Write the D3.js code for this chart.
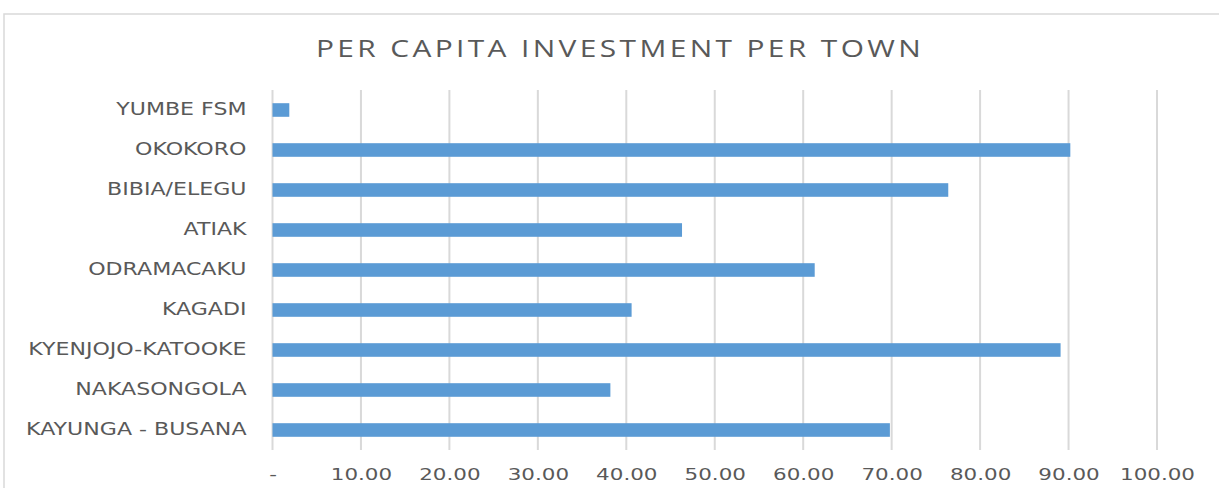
<!DOCTYPE html>
<html>
<head>
<meta charset="utf-8">
<script src="https://cdn.jsdelivr.net/npm/d3@7"></script>
<style>
  body { margin: 0; background: #fff; }
  svg { display: block; }
</style>
</head>
<body>
<svg id="chart"></svg>
<script>
// chart data
const towns = ["KAYUNGA - BUSANA", "NAKASONGOLA", "KYENJOJO-KATOOKE", "KAGADI",
  "ODRAMACAKU", "ATIAK", "BIBIA/ELEGU", "OKOKORO", "YUMBE FSM"];
const perCapita = [69.8, 38.2, 89.1, 40.6, 61.3, 46.3, 76.4, 90.2, 1.9];
const xTicks = [0, 10, 20, 30, 40, 50, 60, 70, 80, 90, 100];

const width = 1219, height = 488;
const margin = { top: 90, right: 62, bottom: 38, left: 272.5 };
const stretch = 1.3; // the original text is drawn wide

const svg = d3.select("#chart").attr("width", width).attr("height", height);

// outer chart border
svg.append("rect")
  .attr("x", 4).attr("y", 14)
  .attr("width", width + 10).attr("height", height + 10)
  .attr("fill", "none").attr("stroke", "#d9d9d9").attr("stroke-width", 1.5);

// title
svg.append("text")
  .attr("transform", `translate(620,57) scale(${stretch},1)`)
  .attr("text-anchor", "middle")
  .attr("font-family", "'Open Sans', sans-serif")
  .attr("font-size", 23)
  .attr("letter-spacing", 2.6)
  .attr("fill", "#595959")
  .text("PER CAPITA INVESTMENT PER TOWN");

const x = d3.scaleLinear().domain([0, 100]).range([margin.left, width - margin.right]);
const y = d3.scaleBand().domain(towns.slice().reverse())
  .range([margin.top, height - margin.bottom]).paddingInner(0.66).paddingOuter(0.33);

// gridlines
svg.append("g")
  .selectAll("line")
  .data(xTicks)
  .join("line")
  .attr("x1", d => x(d)).attr("x2", d => x(d))
  .attr("y1", margin.top).attr("y2", height - margin.bottom)
  .attr("stroke", "#d9d9d9").attr("stroke-width", 2);

// bars
const data = towns.map((t, i) => ({ town: t, value: perCapita[i] }));
svg.append("g")
  .selectAll("rect")
  .data(data)
  .join("rect")
  .attr("x", x(0))
  .attr("y", d => y(d.town))
  .attr("width", d => x(d.value) - x(0))
  .attr("height", y.bandwidth())
  .attr("fill", "#5b9bd5");

// x axis labels
const xAxis = d3.axisBottom(x).tickValues(xTicks)
  .tickFormat(d => d === 0 ? "-" : d3.format(".2f")(d))
  .tickSize(0).tickPadding(18);
const gx = svg.append("g")
  .attr("transform", `translate(0,${height - margin.bottom})`)
  .call(xAxis);
gx.select(".domain").remove();
gx.selectAll("text")
  .attr("transform", `scale(${stretch},1)`)
  .attr("font-family", "'DejaVu Sans', sans-serif")
  .attr("font-size", 16.5)
  .attr("fill", "#595959");

// y axis labels
const yAxis = d3.axisLeft(y).tickSize(0);
const gy = svg.append("g")
  .attr("transform", `translate(${margin.left},0)`)
  .call(yAxis);
gy.select(".domain").remove();
gy.selectAll("text")
  .attr("x", 0)
  .attr("transform", `translate(-26,0) scale(${stretch},1)`)
  .attr("font-family", "'DejaVu Sans', sans-serif")
  .attr("font-size", 17)
  .attr("fill", "#595959");
</script>
</body>
</html>
